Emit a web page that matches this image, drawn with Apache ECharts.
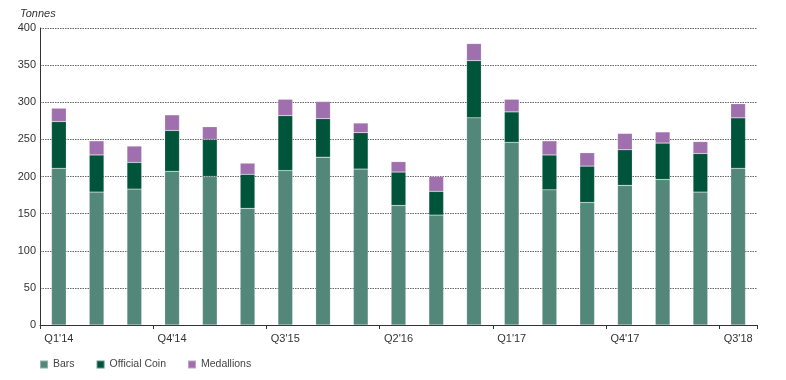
<!DOCTYPE html>
<html>
<head>
<meta charset="utf-8">
<script src="https://cdn.jsdelivr.net/npm/echarts@6/dist/echarts.min.js"></script>
<style>
html,body{margin:0;padding:0;background:#fff;}
#chart{width:786px;height:380px;}
</style>
</head>
<body>
<div id="chart"></div>
<script>
const categories = ["Q1'14","Q2'14","Q3'14","Q4'14","Q1'15","Q2'15","Q3'15","Q4'15","Q1'16","Q2'16","Q3'16","Q4'16","Q1'17","Q2'17","Q3'17","Q4'17","Q1'18","Q2'18","Q3'18"];
const barsValues = [211,179,183,207,200,157,208,226,210,161,148,279,246,182,165,188,196,179,211];
const coinValues = [63,50,36,55,50,46,74,52,49,45,32,77,41,47,49,48,49,52,68];
const medallionValues = [18,19,22,21,17,15,22,23,13,14,20,23,17,19,18,22,15,16,19];
const yTicks = [0,50,100,150,200,250,300,350,400];

const font = '"Liberation Sans", Arial, sans-serif';
const chart = echarts.init(document.getElementById('chart'));
const mk = (name, data, color) => ({
  name, type: 'bar', stack: 'total', data,
  barWidth: '39%',
  itemStyle: { color, borderColor: 'rgba(255,255,255,0.35)', borderWidth: 0.5 },
  emphasis: { disabled: true }
});
chart.setOption({
  animation: false,
  textStyle: { fontFamily: font },
  grid: { left: 40, right: 29, top: 28, bottom: 55 },
  graphic: [{
    type: 'text', left: 20, top: 8,
    style: { text: 'Tonnes', font: 'italic 11px ' + font, fill: '#333' }
  }],
  legend: {
    left: 39, top: 359, padding: 0, itemWidth: 8, itemHeight: 8, itemGap: 21,
    icon: 'rect',
    textStyle: { fontSize: 10.5, color: '#444', fontFamily: font, padding: [0,0,0,0] },
    data: ['Bars','Official Coin','Medallions']
  },
  xAxis: {
    type: 'category', data: categories,
    axisLine: { lineStyle: { color: '#333', width: 1 } },
    axisTick: { show: true, alignWithLabel: false, length: 4, lineStyle: { color: '#333' } },
    axisLabel: { interval: 2, color: '#333', fontSize: 11, margin: 8, fontFamily: font }
  },
  yAxis: {
    type: 'value', min: 0, max: 400, interval: 50,
    axisLine: { show: true, lineStyle: { color: '#333', width: 1 } },
    axisTick: { show: false },
    axisLabel: { color: '#333', fontSize: 11, margin: 4, fontFamily: font,
      formatter: v => yTicks.includes(v) ? String(v) : '' },
    splitLine: { lineStyle: { type: [1.5,1], color: '#666', width: 1 } }
  },
  series: [
    mk('Bars', barsValues, '#52877a'),
    mk('Official Coin', coinValues, '#00543a'),
    mk('Medallions', medallionValues, '#a06fae')
  ]
});
</script>
</body>
</html>
